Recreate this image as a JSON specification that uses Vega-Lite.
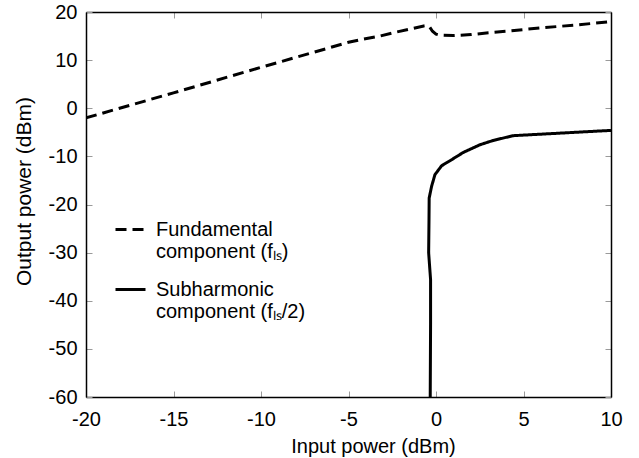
{
  "$schema": "https://vega.github.io/schema/vega-lite/v6.json",
  "width": 525,
  "height": 385,
  "autosize": {"type": "none"},
  "padding": {"left": 86, "top": 12, "right": 28, "bottom": 61},
  "background": "white",
  "config": {
    "view": {"stroke": null},
    "font": "Liberation Sans",
    "axis": {
      "labelFont": "Liberation Sans",
      "titleFont": "Liberation Sans",
      "labelFontSize": 20,
      "titleFontSize": 20,
      "titleFontWeight": "normal",
      "labelColor": "black",
      "titleColor": "black",
      "grid": false,
      "domainColor": "black",
      "domainWidth": 1.5,
      "tickColor": "#9a9a9a",
      "tickWidth": 1,
      "tickSize": -6
    },
    "legend": {
      "labelFont": "Liberation Sans",
      "labelFontSize": 20,
      "labelColor": "black"
    }
  },
  "data": {
    "values": [
      {"series": "Fundamental|component (fₗₛ)", "seq": 1, "pin": -20, "pout": -2.0},
      {"series": "Fundamental|component (fₗₛ)", "seq": 2, "pin": -15, "pout": 3.2},
      {"series": "Fundamental|component (fₗₛ)", "seq": 3, "pin": -10, "pout": 8.5},
      {"series": "Fundamental|component (fₗₛ)", "seq": 4, "pin": -5, "pout": 13.7},
      {"series": "Fundamental|component (fₗₛ)", "seq": 5, "pin": -4.25, "pout": 14.3},
      {"series": "Fundamental|component (fₗₛ)", "seq": 6, "pin": -3.2, "pout": 15.0},
      {"series": "Fundamental|component (fₗₛ)", "seq": 7, "pin": -2.25, "pout": 15.85},
      {"series": "Fundamental|component (fₗₛ)", "seq": 8, "pin": -1.3, "pout": 16.6},
      {"series": "Fundamental|component (fₗₛ)", "seq": 9, "pin": -0.7, "pout": 17.1},
      {"series": "Fundamental|component (fₗₛ)", "seq": 10, "pin": -0.5, "pout": 17.2},
      {"series": "Fundamental|component (fₗₛ)", "seq": 11, "pin": -0.35, "pout": 16.8},
      {"series": "Fundamental|component (fₗₛ)", "seq": 12, "pin": -0.2, "pout": 16.0},
      {"series": "Fundamental|component (fₗₛ)", "seq": 13, "pin": 0, "pout": 15.4},
      {"series": "Fundamental|component (fₗₛ)", "seq": 14, "pin": 0.2, "pout": 15.2},
      {"series": "Fundamental|component (fₗₛ)", "seq": 15, "pin": 1, "pout": 15.1},
      {"series": "Fundamental|component (fₗₛ)", "seq": 16, "pin": 2, "pout": 15.3},
      {"series": "Fundamental|component (fₗₛ)", "seq": 17, "pin": 3, "pout": 15.7},
      {"series": "Fundamental|component (fₗₛ)", "seq": 18, "pin": 4, "pout": 16.0},
      {"series": "Fundamental|component (fₗₛ)", "seq": 19, "pin": 6, "pout": 16.7},
      {"series": "Fundamental|component (fₗₛ)", "seq": 20, "pin": 8, "pout": 17.3},
      {"series": "Fundamental|component (fₗₛ)", "seq": 21, "pin": 10, "pout": 18.0},
      {"series": "Subharmonic|component (fₗₛ/2)", "seq": 1, "pin": -0.33, "pout": -60},
      {"series": "Subharmonic|component (fₗₛ/2)", "seq": 2, "pin": -0.31, "pout": -45},
      {"series": "Subharmonic|component (fₗₛ/2)", "seq": 3, "pin": -0.31, "pout": -35.6},
      {"series": "Subharmonic|component (fₗₛ/2)", "seq": 4, "pin": -0.42, "pout": -30.0},
      {"series": "Subharmonic|component (fₗₛ/2)", "seq": 5, "pin": -0.4, "pout": -23.2},
      {"series": "Subharmonic|component (fₗₛ/2)", "seq": 6, "pin": -0.39, "pout": -18.65},
      {"series": "Subharmonic|component (fₗₛ/2)", "seq": 7, "pin": -0.25, "pout": -16.2},
      {"series": "Subharmonic|component (fₗₛ/2)", "seq": 8, "pin": -0.06, "pout": -13.8},
      {"series": "Subharmonic|component (fₗₛ/2)", "seq": 9, "pin": 0.32, "pout": -11.95},
      {"series": "Subharmonic|component (fₗₛ/2)", "seq": 10, "pin": 0.89, "pout": -10.7},
      {"series": "Subharmonic|component (fₗₛ/2)", "seq": 11, "pin": 1.55, "pout": -9.2},
      {"series": "Subharmonic|component (fₗₛ/2)", "seq": 12, "pin": 2.5, "pout": -7.6},
      {"series": "Subharmonic|component (fₗₛ/2)", "seq": 13, "pin": 3.26, "pout": -6.7},
      {"series": "Subharmonic|component (fₗₛ/2)", "seq": 14, "pin": 4.4, "pout": -5.7},
      {"series": "Subharmonic|component (fₗₛ/2)", "seq": 15, "pin": 10, "pout": -4.6}
    ]
  },
  "layer": [
    {
      "mark": {"type": "line", "strokeWidth": 3, "color": "black", "strokeCap": "butt", "clip": true},
      "encoding": {
        "x": {
          "field": "pin", "type": "quantitative",
          "scale": {"domain": [-20, 10], "nice": false, "zero": false},
          "axis": {"orient": "bottom", "title": "Input power (dBm)", "titleX": 287, "values": [-20, -15, -10, -5, 0, 5, 10], "labelPadding": 18, "titlePadding": 7, "labelFlush": false, "labelExpr": "replace(datum.label, '−', '-')"}
        },
        "y": {
          "field": "pout", "type": "quantitative",
          "scale": {"domain": [-60, 20], "nice": false, "zero": false},
          "axis": {"orient": "left", "title": "Output power (dBm)", "titleFontSize": 21, "titleY": 179, "values": [-60, -50, -40, -30, -20, -10, 0, 10, 20], "labelPadding": 15, "titlePadding": 14, "labelFlush": false, "labelExpr": "replace(datum.label, '−', '-')"}
        },
        "detail": {"field": "series"},
        "order": {"field": "seq", "type": "quantitative"},
        "strokeDash": {
          "field": "series", "type": "nominal",
          "scale": {"domain": ["Fundamental|component (fₗₛ)", "Subharmonic|component (fₗₛ/2)"], "range": [[11, 6], [1, 0]]},
          "legend": {
            "title": null,
            "orient": "none",
            "legendX": 28,
            "legendY": 201,
            "padding": 0,
            "rowPadding": 11,
            "symbolType": "stroke",
            "symbolSize": 900,
            "symbolStrokeWidth": 3,
            "symbolStrokeColor": "black",
            "labelOffset": 9,
            "labelLimit": 400,
            "labelExpr": "split(datum.label, '|')"
          }
        }
      }
    },
    {
      "mark": {"type": "point", "opacity": 0},
      "encoding": {
        "x": {
          "field": "pin", "type": "quantitative",
          "axis": {"orient": "top", "title": null, "labels": false, "values": [-20, -15, -10, -5, 0, 5, 10]}
        },
        "y": {
          "field": "pout", "type": "quantitative",
          "axis": {"orient": "right", "title": null, "labels": false, "values": [-60, -50, -40, -30, -20, -10, 0, 10, 20]}
        }
      }
    }
  ],
  "resolve": {"axis": {"x": "independent", "y": "independent"}}
}
